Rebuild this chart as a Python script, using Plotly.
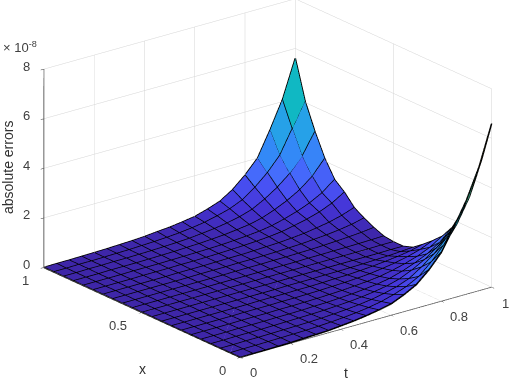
import plotly.graph_objects as go

t_values = [0, .05, .1, .15, .2, .25, .3, .35, .4, .45, .5, .55, .6, .65, .7, .75, .8, .85, .9, .95, 1]
x_values = [0, .05, .1, .15, .2, .25, .3, .35, .4, .45, .5, .55, .6, .65, .7, .75, .8, .85, .9, .95, 1]
# absolute errors, in units of 1e-8: one row per x, one column per t
errors = [
    [0,.01,.01,.02,.03,.05,.07,.09,.14,.19,.26,.35,.46,.68,.95,1.4,1.97,2.85,3.8,5.0,6.6],
    [0,.01,.01,.02,.03,.04,.05,.07,.10,.14,.19,.26,.36,.50,.68,.95,1.40,1.95,2.65,3.60,5.0],
    [0,0,.01,.01,.02,.03,.04,.05,.07,.10,.14,.19,.26,.36,.49,.68,1.01,1.40,1.91,2.59,3.6],
    [0,0,.01,.01,.01,.02,.03,.04,.05,.07,.10,.13,.18,.25,.34,.48,.70,.98,1.33,1.80,2.5],
    [0,0,0,.01,.01,.01,.02,.02,.03,.05,.06,.09,.12,.17,.23,.32,.47,.66,.89,1.21,1.68],
    [0,0,0,0,.01,.01,.01,.02,.02,.03,.04,.06,.08,.12,.16,.22,.32,.45,.61,.83,1.15],
    [0,0,0,0,0,.01,.01,.01,.02,.02,.03,.04,.06,.08,.11,.15,.22,.30,.41,.56,.78],
    [0,0,0,0,0,0,0,.01,.01,.01,.02,.02,.03,.05,.06,.09,.13,.18,.24,.32,.45],
    [0,0,0,0,0,0,0,0,0,0,.01,.01,.01,.02,.02,.03,.04,.06,.08,.11,.15],
    [0,0,0,0,0,0,0,0,0,0,0,0,0,0,0,0,0,0,0,.01,.01],
    [0,0,0,0,0,0,0,0,0,0,0,0,0,0,0,0,0,0,0,.01,.01],
    [0,0,0,0,0,0,0,0,0,0,0,0,0,0,.01,.01,.02,.02,.03,.04,.06],
    [0,0,0,0,0,0,0,0,0,.01,.01,.01,.02,.02,.03,.04,.06,.09,.12,.16,.22],
    [0,0,0,0,0,0,0,.01,.01,.01,.02,.02,.03,.04,.06,.08,.12,.16,.22,.30,.42],
    [0,0,0,0,0,0,.01,.01,.01,.02,.03,.03,.05,.07,.09,.13,.18,.26,.35,.48,.66],
    [0,0,0,0,.01,.01,.01,.02,.02,.03,.04,.06,.08,.11,.15,.21,.31,.43,.58,.79,1.1],
    [0,0,0,0,.01,.01,.01,.02,.03,.04,.05,.07,.10,.14,.19,.27,.40,.56,.76,1.03,1.43],
    [0,0,0,.01,.01,.01,.02,.03,.04,.06,.08,.11,.15,.21,.28,.40,.59,.82,1.11,1.51,2.1],
    [0,0,.01,.01,.02,.02,.03,.04,.06,.08,.11,.16,.22,.30,.41,.57,.84,1.17,1.59,2.16,3.0],
    [0,0,.01,.01,.02,.03,.04,.06,.08,.11,.15,.21,.29,.41,.55,.77,1.13,1.58,2.15,3.1,4.05],
    [0,.01,.01,.02,.03,.04,.06,.08,.11,.16,.20,.27,.35,.50,.68,1.0,1.45,2.0,3.0,4.1,5.6],
]
t_ticks = [0, .2, .4, .6, .8, 1]
t_ticklabels = ["0", "0.2", "0.4", "0.6", "0.8", "1"]
x_ticks = [0, .5, 1]
x_ticklabels = ["0", "0.5", "1"]
z_ticks = [0, 2, 4, 6, 8]
z_ticklabels = ["0", "2", "4", "6", "8"]

parula = [
    [0.00, "#3e26a8"], [0.063, "#4433d5"], [0.125, "#4852f4"], [0.19, "#4473fe"], [0.25, "#2f8ef5"],
    [0.31, "#289fea"], [0.38, "#1fa9e3"], [0.44, "#07b4d0"], [0.50, "#1abcb4"], [0.56, "#3ec29c"],
    [0.63, "#72c47d"], [0.69, "#a8c35c"], [0.75, "#d0bb44"], [0.81, "#f0bb3a"], [0.88, "#fdc932"],
    [0.94, "#f9e221"], [1.00, "#f9fb15"],
]

n_x, n_t = len(x_values), len(t_values)
vx, vy, vz = [], [], []
for a in range(n_x):
    for b in range(n_t):
        vx.append(t_values[b]); vy.append(x_values[a]); vz.append(errors[a][b])

I, J, K, cell = [], [], [], []
for a in range(n_x - 1):
    for b in range(n_t - 1):
        p = a * n_t + b
        q = p + 1
        r = p + n_t
        s = r + 1
        I += [p, p]; J += [q, s]; K += [s, r]
        cell += [errors[a][b], errors[a][b]]

fig = go.Figure()
fig.add_trace(go.Mesh3d(
    x=vx, y=vy, z=vz, i=I, j=J, k=K,
    intensity=cell, intensitymode="cell", colorscale=parula, cmin=0, cmax=max(vz),
    showscale=False, flatshading=True,
    lighting=dict(ambient=1, diffuse=0, specular=0, roughness=1, fresnel=0),
))

lx, ly, lz = [], [], []
for a in range(n_x):
    lx += t_values + [None]
    ly += [x_values[a]] * n_t + [None]
    lz += errors[a] + [None]
for b in range(n_t):
    lx += [t_values[b]] * n_x + [None]
    ly += x_values + [None]
    lz += [errors[a][b] for a in range(n_x)] + [None]
fig.add_trace(go.Scatter3d(x=lx, y=ly, z=lz, mode="lines",
                           line=dict(color="#000000", width=3), showlegend=False, hoverinfo="skip"))

tick_font = dict(family="Liberation Sans, Arial, sans-serif", size=13, color="#404040")
title_font = dict(family="Liberation Sans, Arial, sans-serif", size=14, color="#303030")
axis = dict(showbackground=False, showgrid=True, gridcolor="#d4d4d4", gridwidth=1,
            showline=True, linecolor="#303030", linewidth=1.5, zeroline=False,
            ticks="outside", ticklen=4, tickcolor="#303030", showticklabels=False, title=dict(text=""),
            showspikes=False)

labels = []
def label(text, x, y, z, dx, dy, font):
    labels.append(dict(x=x, y=y, z=z, text=text, showarrow=False, xshift=dx, yshift=-dy, font=font,
                       xanchor="center", yanchor="middle"))

for v, s in zip(t_ticks[:-1], t_ticklabels[:-1]):
    label(s, v, 0, 0, 18 if v > 0 else 13, 15, tick_font)
for v, s in zip(x_ticks, x_ticklabels):
    label(s, 0, v, 0, -24 if 0 < v < 1 else -18, 13, tick_font)
for v, s in zip(z_ticks, z_ticklabels):
    label(s, 0, 1, v, -17, -3, tick_font)
label("t", .5, 0, 0, -20, 51, title_font)
label("x", 0, .5, 0, 0, 57, title_font)

k = 1.67
d = 1.23
cz = -0.072
cx, cy = -0.053, 0.041
fig.update_layout(
    width=510, height=382, margin=dict(l=0, r=0, t=0, b=0), paper_bgcolor="white", showlegend=False,
    scene=dict(
        domain=dict(x=[0, 1], y=[0, 1]),
        xaxis=dict(axis, range=[0, 1], tickvals=t_ticks),
        yaxis=dict(axis, range=[0, 1], tickvals=x_ticks),
        zaxis=dict(axis, range=[0, 8], tickvals=z_ticks),
        aspectmode="manual", aspectratio=dict(x=k, y=k, z=0.666 * k),
        camera=dict(projection=dict(type="orthographic"),
                    eye=dict(x=-0.575 * d + cx, y=-0.736 * d + cy, z=0.358 * d + cz),
                    center=dict(x=cx, y=cy, z=cz), up=dict(x=0, y=0, z=1)),
        annotations=labels,
    ),
)
for text, px, py, ang, f in [("× 10<sup>-8</sup>", 20, 47, 0, tick_font), ("absolute errors", 8, 168, -90, title_font),
                             (t_ticklabels[-1], 505, 303, 0, tick_font)]:
    fig.add_annotation(text=text, x=px / 510, y=1 - py / 382, xref="paper", yref="paper", showarrow=False,
                       xanchor="center", yanchor="middle", textangle=ang, font=f)
fig.write_html("out.html", post_script="document.body.style.margin='0';", config=dict(displayModeBar=False))
